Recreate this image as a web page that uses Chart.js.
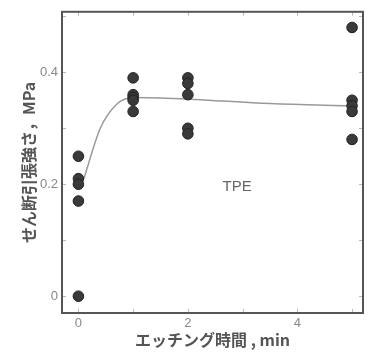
<!DOCTYPE html>
<html>
<head>
<meta charset="utf-8">
<script src="https://cdn.jsdelivr.net/npm/chart.js@4.4.1/dist/chart.umd.min.js"></script>
<style>
html,body{margin:0;padding:0;background:#fff;}
#wrap{width:370px;height:354px;}
</style>
</head>
<body>
<div id="wrap"><canvas id="c" width="370" height="354"></canvas></div>
<script>
// ---- data ----
const etchTimes = [0, 1, 2, 5];
const strengthAt0 = [0.25, 0.21, 0.20, 0.17, 0.0];
const strengthAt1 = [0.39, 0.36, 0.355, 0.35, 0.33];
const strengthAt2 = [0.39, 0.38, 0.36, 0.30, 0.29];
const strengthAt5 = [0.48, 0.35, 0.34, 0.33, 0.28];
const fitX = [0.1, 0.4, 0.7, 1.0, 2.0, 3.5, 5.0];
const fitY = [0.21, 0.30, 0.343, 0.355, 0.352, 0.344, 0.34];
const xTicks = [0, 2, 4];
const yTicks = [0, 0.2, 0.4];
const xLabel = 'エッチング時間 , min';
const yLabel = 'せん断引張強さ，MPa';
const annotation = 'TPE';

const groups = [strengthAt0, strengthAt1, strengthAt2, strengthAt5];
const scatterPts = [];
groups.forEach((g, i) => g.forEach(v => scatterPts.push({x: etchTimes[i], y: v})));
const fitPts = fitX.map((x, i) => ({x: x, y: fitY[i]}));

const framePlugin = {
  id: 'frame',
  afterDatasetsDraw(chart) {
    const {ctx, chartArea: a, scales: {x, y}} = chart;
    ctx.save();
    ctx.strokeStyle = '#bbb';
    ctx.lineWidth = 1;
    const tl = 4;
    for (let v = 0; v <= 5; v += 1) {
      const px = Math.round(x.getPixelForValue(v)) + 0.5;
      ctx.beginPath();
      ctx.moveTo(px, a.bottom); ctx.lineTo(px, a.bottom - tl);
      ctx.moveTo(px, a.top); ctx.lineTo(px, a.top + tl);
      ctx.stroke();
    }
    for (let k = 0; k <= 5; k++) {
      const v = k * 0.1;
      const py = Math.round(y.getPixelForValue(v)) + 0.5;
      ctx.beginPath();
      ctx.moveTo(a.left, py); ctx.lineTo(a.left + tl, py);
      ctx.moveTo(a.right, py); ctx.lineTo(a.right - tl, py);
      ctx.stroke();
    }
    ctx.strokeStyle = '#555';
    ctx.lineWidth = 2;
    ctx.strokeRect(a.left, a.top, a.right - a.left, a.bottom - a.top);
    ctx.fillStyle = '#666';
    ctx.font = '15px "Liberation Sans", Arial, sans-serif';
    ctx.textAlign = 'center';
    ctx.textBaseline = 'middle';
    ctx.fillText(annotation, x.getPixelForValue(2.9), y.getPixelForValue(0.195));
    ctx.restore();
  }
};

new Chart(document.getElementById('c'), {
  type: 'scatter',
  data: {
    datasets: [
      {
        type: 'line',
        data: fitPts,
        borderColor: '#999',
        borderWidth: 1.5,
        pointRadius: 0,
        fill: false,
        cubicInterpolationMode: 'monotone',
        order: 2
      },
      {
        data: scatterPts,
        backgroundColor: '#3a3a3a',
        borderColor: '#222',
        borderWidth: 1,
        pointRadius: 5.3,
        order: 1
      }
    ]
  },
  options: {
    responsive: false,
    animation: false,
    devicePixelRatio: 1,
    layout: {padding: {left: 0, right: 7, top: 10, bottom: 0}},
    plugins: {legend: {display: false}, tooltip: {enabled: false}},
    scales: {
      x: {
        type: 'linear',
        min: -0.3,
        max: 5.2,
        afterFit(s) { s.height = 41; },
        afterBuildTicks(s) { s.ticks = xTicks.map(v => ({value: v})); },
        grid: {display: false, drawTicks: false},
        border: {display: false},
        ticks: {
          padding: 3,
          color: '#888',
          font: {family: '"Liberation Sans", Arial, sans-serif', size: 13},
          callback: v => String(v)
        },
        title: {
          display: true,
          text: xLabel,
          color: '#555',
          padding: {top: 0, bottom: 4},
          font: {family: '"Noto Sans CJK JP", sans-serif', size: 16, weight: 'bold'}
        }
      },
      y: {
        type: 'linear',
        min: -0.03,
        max: 0.508,
        afterFit(s) { s.width = 62; },
        afterBuildTicks(s) { s.ticks = yTicks.map(v => ({value: v})); },
        grid: {display: false, drawTicks: false},
        border: {display: false},
        ticks: {
          padding: 4,
          color: '#888',
          font: {family: '"Liberation Sans", Arial, sans-serif', size: 13},
          callback: v => String(v)
        },
        title: {
          display: true,
          text: yLabel,
          color: '#555',
          padding: {top: 19, bottom: 0},
          font: {family: '"Noto Sans CJK JP", sans-serif', size: 16, weight: 'bold'}
        }
      }
    }
  },
  plugins: [framePlugin]
});
</script>
</body>
</html>
